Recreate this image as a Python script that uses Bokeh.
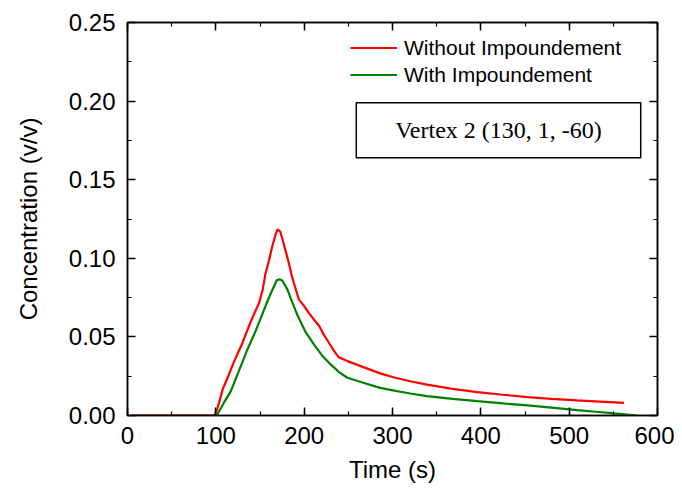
from bokeh.plotting import figure
from bokeh.models import (Range1d, LinearAxis, SingleIntervalTicker, NumeralTickFormatter,
                          CustomJSTickFormatter, Legend, LegendItem, BoxAnnotation, Label)
from bokeh.embed import file_html
from bokeh.resources import INLINE

# Data
time_without = [5, 60, 95, 99, 101.5, 104, 108, 114, 120, 130, 139, 149, 153, 156, 160, 164, 168, 170, 173, 175,
                179, 183, 186, 190, 194, 200, 205, 211, 217, 222, 228, 234, 239, 249, 264, 286, 302, 320, 339, 366,
                396, 425, 453, 480, 509, 535, 562]
conc_without = [0, 0, 0, 0.0005, 0.004, 0.009, 0.017, 0.025, 0.0335, 0.046, 0.059, 0.0717, 0.080, 0.0898, 0.0983,
                0.1078, 0.1157, 0.1185, 0.1169, 0.1131, 0.1047, 0.0962, 0.0887, 0.0813, 0.0739, 0.0696, 0.0654,
                0.0611, 0.0569, 0.0516, 0.0463, 0.041, 0.0371, 0.0346, 0.0314, 0.0268, 0.0242, 0.0218, 0.0196,
                0.0171, 0.0149, 0.0132, 0.0117, 0.0106, 0.0096, 0.0088, 0.008]

time_with = [5, 60, 101, 109, 117, 126, 135, 145, 154, 160, 166, 169, 172, 175, 181, 186, 192, 201, 211, 220,
             230, 239, 249, 266, 286, 302, 320, 339, 368, 396, 425, 453, 480, 509, 530, 551, 577]
conc_with = [0, 0, 0, 0.008, 0.0155, 0.0282, 0.041, 0.0537, 0.0664, 0.0749, 0.0824, 0.086, 0.0866, 0.086, 0.0802,
             0.0728, 0.0643, 0.0537, 0.0452, 0.0384, 0.0325, 0.0278, 0.024, 0.021, 0.0176, 0.0158, 0.014, 0.0123,
             0.0106, 0.0091, 0.0077, 0.0064, 0.005, 0.0034, 0.0024, 0.0013, 0]

series_labels = ["Without Impoundement", "With Impoundement"]
annotation_text = "Vertex 2 (130, 1, -60)"
x_label = "Time (s)"
y_label = "Concentration (v/v)"

FONT = "Liberation Sans"

p = figure(width=674, height=492, output_backend="svg", toolbar_location=None,
           x_range=Range1d(0, 600), y_range=Range1d(0, 0.25),
           x_axis_type=None, y_axis_type=None,
           min_border_left=127, min_border_right=17, min_border_top=22, min_border_bottom=77)
p.grid.visible = False
p.outline_line_color = "black"
p.outline_line_width = 1.5
p.background_fill_color = "white"
p.border_fill_color = "white"


def style_axis(ax, show_labels):
    ax.major_tick_in = 8
    ax.major_tick_out = 0
    ax.minor_tick_in = 4
    ax.minor_tick_out = 0
    ax.axis_line_color = "black"
    ax.axis_line_width = 1.5
    ax.major_tick_line_color = "black"
    ax.major_tick_line_width = 1.5
    ax.minor_tick_line_color = "black"
    ax.minor_tick_line_width = 1.2
    if show_labels:
        ax.major_label_text_font = FONT
        ax.major_label_text_font_size = "24px"
        ax.major_label_text_color = "black"
        ax.axis_label_text_font = FONT
        ax.axis_label_text_font_size = "24px"
        ax.axis_label_text_font_style = "normal"
        ax.axis_label_text_color = "black"
    else:
        ax.formatter = CustomJSTickFormatter(code="return '';")
        ax.major_label_standoff = 0


xb = LinearAxis(ticker=SingleIntervalTicker(interval=100, num_minor_ticks=2), axis_label=x_label)
style_axis(xb, True)
xb.major_label_standoff = 11
xb.axis_label_standoff = 9
p.add_layout(xb, "below")

xa = LinearAxis(ticker=SingleIntervalTicker(interval=100, num_minor_ticks=2))
style_axis(xa, False)
p.add_layout(xa, "above")

yl = LinearAxis(ticker=SingleIntervalTicker(interval=0.05, num_minor_ticks=2), axis_label=y_label,
                formatter=NumeralTickFormatter(format="0.00"))
style_axis(yl, True)
yl.major_label_standoff = 12
yl.axis_label_standoff = 24
p.add_layout(yl, "left")

yr = LinearAxis(ticker=SingleIntervalTicker(interval=0.05, num_minor_ticks=2))
style_axis(yr, False)
p.add_layout(yr, "right")

r1 = p.line(time_without, conc_without, line_color="#ff0000", line_width=2.2)
r2 = p.line(time_with, conc_with, line_color="#008000", line_width=2.2)
# draw red on top
p.renderers = [r2, r1]

legend = Legend(items=[LegendItem(label=series_labels[0], renderers=[r1]),
                       LegendItem(label=series_labels[1], renderers=[r2])],
                location=(223, 327))
legend.border_line_color = None
legend.background_fill_alpha = 0
legend.padding = 0
legend.spacing = 0
legend.margin = 0
legend.glyph_width = 47
legend.glyph_height = 27
legend.label_height = 27
legend.label_standoff = 7
legend.label_text_font = FONT
legend.label_text_font_size = "21px"
legend.label_text_color = "black"
p.add_layout(legend)

box = BoxAnnotation(left=259, right=581, bottom=0.164, top=0.199,
                    fill_color=None, fill_alpha=0, line_color="black", line_alpha=1.0, line_width=1.5)
p.add_layout(box)

lab = Label(x=420, y=0.1815, text=annotation_text, text_align="center", text_baseline="middle",
            text_font="Liberation Serif", text_font_size="24px", text_color="black")
p.add_layout(lab)

open("out.html", "w").write(file_html(p, INLINE))
